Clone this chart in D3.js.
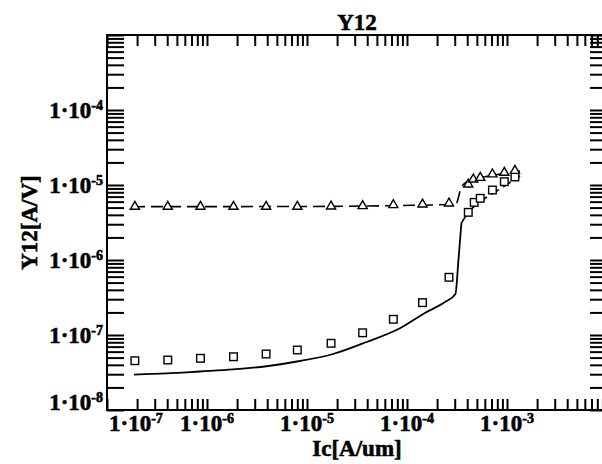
<!DOCTYPE html>
<html>
<head>
<meta charset="utf-8">
<script src="https://cdn.jsdelivr.net/npm/d3@7"></script>
<style>
  html, body { margin: 0; padding: 0; background: #fff; }
  svg { display: block; }
</style>
</head>
<body>
<svg id="chart" width="602" height="464"></svg>
<script>
// ---------- data ----------
// measured markers: squares
const icSquares = [1.9e-7, 4.05e-7, 8.6e-7, 1.84e-6, 3.9e-6, 8.0e-6, 1.74e-5, 3.6e-5, 7.3e-5, 1.43e-4, 2.63e-4, 4.1e-4, 4.7e-4, 5.4e-4, 7.15e-4, 9.4e-4, 1.2e-3];
const y12Squares = [4.54e-8, 4.64e-8, 4.89e-8, 5.13e-8, 5.58e-8, 6.31e-8, 7.75e-8, 1.07e-7, 1.62e-7, 2.7e-7, 5.88e-7, 4.32e-6, 5.87e-6, 6.65e-6, 8.58e-6, 1.107e-5, 1.28e-5];
// measured markers: triangles
const icTriangles = [1.9e-7, 4.05e-7, 8.6e-7, 1.84e-6, 3.9e-6, 8.0e-6, 1.74e-5, 3.6e-5, 7.3e-5, 1.43e-4, 2.63e-4, 4.1e-4, 4.6e-4, 5.4e-4, 7.15e-4, 9.4e-4, 1.2e-3];
const y12Triangles = [5.14e-6, 5.14e-6, 5.14e-6, 5.14e-6, 5.14e-6, 5.14e-6, 5.2e-6, 5.25e-6, 5.41e-6, 5.53e-6, 5.7e-6, 1.02e-5, 1.19e-5, 1.25e-5, 1.39e-5, 1.46e-5, 1.55e-5];
// simulated curve, lower branch (solid part)
const icLowSolid = [1.86e-7, 3.98e-7, 8.5e-7, 1.82e-6, 3.94e-6, 8.5e-6, 1.82e-5, 3.94e-5, 8.5e-5, 1.51e-4, 2.4e-4, 3.05e-4, 3.27e-4, 3.5e-4];
const y12LowSolid = [2.96e-8, 3.07e-8, 3.26e-8, 3.47e-8, 3.83e-8, 4.5e-8, 5.58e-8, 8.07e-8, 1.23e-7, 1.97e-7, 2.75e-7, 3.52e-7, 1.0e-6, 3.11e-6];
// simulated curve, lower branch (dashed continuation)
const icLowDashed = [3.5e-4, 4.07e-4, 5.13e-4, 7.08e-4, 9.77e-4, 1.35e-3];
const y12LowDashed = [3.11e-6, 4.23e-6, 5.75e-6, 7.59e-6, 1.0e-5, 1.32e-5];
// simulated curve, upper branch (dashed)
const icUpper = [1.82e-7, 8.5e-6, 8.5e-5, 2.63e-4, 3.1e-4, 3.45e-4, 3.7e-4, 4.2e-4, 5.5e-4, 7.5e-4, 1.0e-3, 1.35e-3];
const y12Upper = [5.14e-6, 5.17e-6, 5.33e-6, 5.5e-6, 5.65e-6, 8.85e-6, 1.03e-5, 1.13e-5, 1.26e-5, 1.36e-5, 1.445e-5, 1.54e-5];

// axes
const xDomain = [1e-7, 1e-2];
const yDomain = [1e-8, 1e-3];
const xLabelExps = [-7, -6, -5, -4, -3];
const yLabelExps = [-8, -7, -6, -5, -4];
const titleText = "Y12";
const xTitle = "Ic[A/um]";
const yTitle = "Y12[A/V]";

// ---------- layout ----------
const FONT = "'Liberation Serif', 'Times New Roman', Times, serif";
const L = 107, R = 607, T = 35, B = 410;
const svg = d3.select("#chart");
const x = d3.scaleLog().domain(xDomain).range([L, R]);
const y = d3.scaleLog().domain(yDomain).range([B, T]);

function logTicks(dom) {
  const out = [];
  const e0 = Math.round(Math.log10(dom[0])), e1 = Math.round(Math.log10(dom[1]));
  for (let e = e0; e < e1; e++) for (let k = 1; k <= 9; k++) out.push(k * Math.pow(10, e));
  out.push(Math.pow(10, e1));
  return out;
}
const xt = logTicks(xDomain), yt = logTicks(yDomain);

function styleAxis(g) {
  g.select(".domain").remove();
  g.selectAll(".tick text").remove();
  g.selectAll(".tick line").attr("stroke", "#000").attr("stroke-width", 2);
}
svg.append("g").attr("transform", `translate(0,${B})`)
  .call(d3.axisBottom(x).tickValues(xt).tickSize(-11).tickFormat("")).call(styleAxis);
svg.append("g").attr("transform", `translate(0,${T})`)
  .call(d3.axisTop(x).tickValues(xt).tickSize(-11).tickFormat("")).call(styleAxis);
svg.append("g").attr("transform", `translate(${L},0)`)
  .call(d3.axisLeft(y).tickValues(yt).tickSize(-17).tickFormat("")).call(styleAxis);
svg.append("g").attr("transform", `translate(${R},0)`)
  .call(d3.axisRight(y).tickValues(yt).tickSize(-17).tickFormat("")).call(styleAxis);

// frame
svg.append("rect").attr("x", L).attr("y", T).attr("width", R - L).attr("height", B - T)
  .attr("fill", "none").attr("stroke", "#000").attr("stroke-width", 2);

// ---------- curves ----------
const line = d3.line().x(d => x(d[0])).y(d => y(d[1])).curve(d3.curveMonotoneX);
const zip = (a, b) => a.map((v, i) => [v, b[i]]);
svg.append("path").attr("d", line(zip(icLowSolid, y12LowSolid)))
  .attr("fill", "none").attr("stroke", "#000").attr("stroke-width", 1.8);
svg.append("path").attr("d", line(zip(icLowDashed, y12LowDashed)))
  .attr("fill", "none").attr("stroke", "#000").attr("stroke-width", 1.6).attr("stroke-dasharray", "9,5");
svg.append("path").attr("d", line(zip(icUpper, y12Upper)))
  .attr("fill", "none").attr("stroke", "#000").attr("stroke-width", 1.6).attr("stroke-dasharray", "12,6");

// markers
svg.append("g").selectAll("rect").data(zip(icSquares, y12Squares)).join("rect")
  .attr("x", d => x(d[0]) - 3.8).attr("y", d => y(d[1]) - 3.8)
  .attr("width", 7.6).attr("height", 7.6)
  .attr("fill", "#fff").attr("stroke", "#000").attr("stroke-width", 1.4);
const tri = d3.symbol().type(d3.symbolTriangle).size(36);
svg.append("g").selectAll("path").data(zip(icTriangles, y12Triangles)).join("path")
  .attr("transform", d => `translate(${x(d[0])},${y(d[1])})`)
  .attr("d", tri)
  .attr("fill", "#fff").attr("stroke", "#000").attr("stroke-width", 1.4);

// ---------- tick labels ----------
function powLabel(g, e) {
  g.append("tspan").text("1\u00B710").attr("font-size", 23);
  g.append("tspan").text(String(e)).attr("font-size", 14).attr("dy", -8);
}
function txt() {
  return svg.append("text").attr("font-family", FONT).attr("font-weight", "bold")
    .attr("fill", "#000").attr("stroke", "#000").attr("stroke-width", 0.6);
}
xLabelExps.forEach(e => {
  const v = Math.pow(10, e);
  const t = txt().attr("x", x(v)).attr("y", 431).attr("text-anchor", "middle");
  powLabel(t, e);
  const bb = t.node().getBBox();
  if (bb.x < L) t.attr("text-anchor", "start").attr("x", L + 2);
});
yLabelExps.forEach(e => {
  const v = Math.pow(10, e);
  let by = y(v) + 7.7;
  if (by > B) by = B;
  const t = txt().attr("x", 103).attr("y", by).attr("text-anchor", "end");
  powLabel(t, e);
});

// ---------- titles ----------
txt().attr("x", (L + R) / 2).attr("y", 30).attr("text-anchor", "middle")
  .attr("font-size", 23).text(titleText);
txt().attr("x", (L + R) / 2).attr("y", 456).attr("text-anchor", "middle")
  .attr("font-size", 23).text(xTitle);
txt().attr("transform", `translate(37,${(T + B) / 2}) rotate(-90)`)
  .attr("text-anchor", "middle").attr("font-size", 23).text(yTitle);
</script>
</body>
</html>
